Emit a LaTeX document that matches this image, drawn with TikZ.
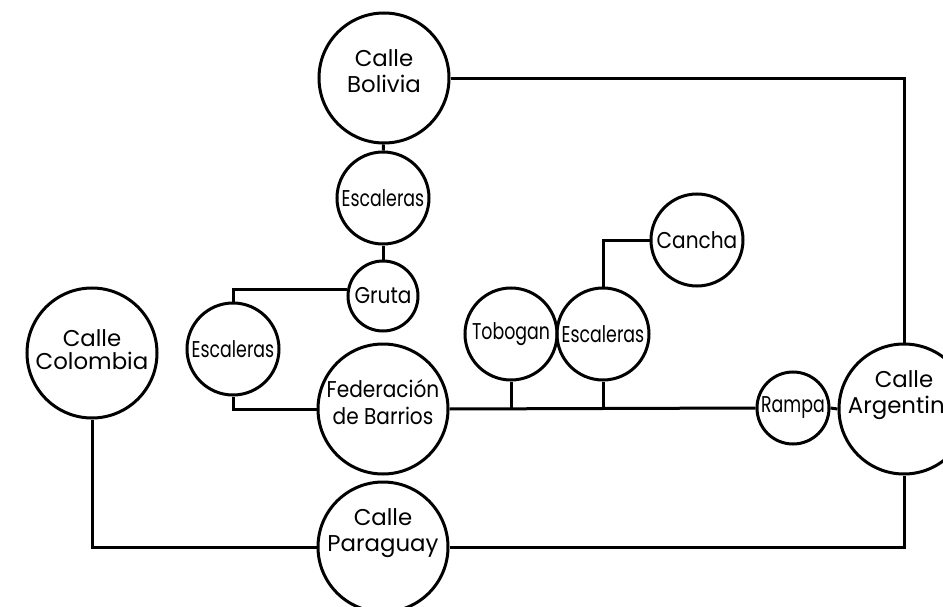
\documentclass[tikz,border=0pt]{standalone}
\usepackage{fontspec}
\setmainfont{Poppins}
\usepackage{graphicx}
\newcommand{\narrow}[1]{\scalebox{0.76}[1]{#1}}
\newcommand{\slim}[1]{\scalebox{0.88}[1]{#1}}
\tikzset{
  place/.style={draw, circle, line width=0.6mm, inner sep=0pt, minimum size=#1},
  street/.style={place=26mm},
  spot/.style={place=18.4mm},
  streetname/.style={align=center},
  road/.style={line width=0.6mm}
}
\begin{document}
  \begin{tikzpicture}[x=0.2mm, y=-0.2mm, font=\fontsize{13}{15}\selectfont]
    \useasboundingbox (0,0) rectangle (943,607);
    % streets
    \node[street] (bolivia) at (384,78) {};
    \node[streetname] (bolivia-name) at (384,71) {Calle\\Bolivia};
    \node[street] (colombia) at (92,353) {};
    \node[streetname] (colombia-name) at (92,350) {Calle\\[-2pt]Colombia};
    \node[street] (federacion) at (383,409) {};
    \node[streetname] (federacion-name) at (383,402) {\slim{Federación}\\\slim{de Barrios}};
    \node[street] (paraguay) at (383,547) {};
    \node[streetname] (paraguay-name) at (383,533) {Calle\\Paraguay};
    \node[street] (argentina) at (904,409) {};
    \node[streetname] (argentina-name) at (904,395) {Calle\\Argentina};
    % smaller places
    \node[spot] (escaleras-a) at (383,198) {\narrow{Escaleras}};
    \node[place=14mm] (gruta) at (383,296) {\slim{Gruta}};
    \node[spot] (escaleras-b) at (233,349) {\narrow{Escaleras}};
    \node[spot] (tobogan) at (511,334) {\narrow{Tobogan}};
    \node[spot] (escaleras-c) at (603,334) {\narrow{Escaleras}};
    \node[spot] (cancha) at (697,240) {\slim{Cancha}};
    \node[place=14.4mm] (rampa) at (793,408) {\narrow{Rampa}};
    % connections
    \draw[road] (bolivia.east) -| (argentina.north);
    \draw[road] (bolivia) -- (escaleras-a);
    \draw[road] (escaleras-a) -- (gruta);
    \draw[road] (gruta.170) -| (escaleras-b.north);
    \draw[road] (escaleras-b.south) |- (federacion.west);
    \draw[road] (federacion.east) -- (rampa.west);
    \draw[road] (tobogan.south) -- (tobogan |- federacion.east);
    \draw[road] (escaleras-c.south) -- (escaleras-c |- federacion.east);
    \draw[road] (escaleras-c.north) |- (cancha.west);
    \draw[road] (rampa.east) -- (argentina.west);
    \draw[road] (argentina.south) |- (paraguay.east);
    \draw[road] (colombia.south) |- (paraguay.west);
  \end{tikzpicture}
\end{document}
